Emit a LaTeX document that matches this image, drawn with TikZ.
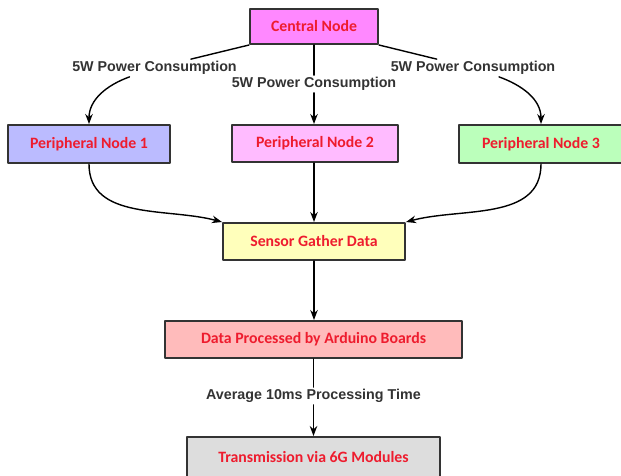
\documentclass[tikz,border=0pt]{standalone}
\usepackage{fontspec}
\setmainfont{Carlito}
\newfontfamily\edgefont{Liberation Sans}
\usetikzlibrary{arrows.meta}
\definecolor{boxline}{HTML}{333333}
\definecolor{boxtext}{HTML}{EE1C2E}
\definecolor{centralfill}{HTML}{FF88FF}
\definecolor{pnonefill}{HTML}{BBBBFF}
\definecolor{pntwofill}{HTML}{FFBBFF}
\definecolor{pnthreefill}{HTML}{BBFFBB}
\definecolor{sensorfill}{HTML}{FFFFBB}
\definecolor{procfill}{HTML}{FFBBBB}
\definecolor{transfill}{HTML}{DDDDDD}
\begin{document}
\begin{tikzpicture}[x=1pt, y=-1pt, line cap=round, line join=round, >={Stealth[length=10pt,width=7.5pt]}]
	\tikzset{box/.style={draw=boxline, line width=2pt, text=boxtext, font=\fontsize{15.8}{18}\selectfont\bfseries, minimum height=36pt, inner sep=0pt},
		edgelabel/.style={fill=white, text=boxline, font=\edgefont\fontsize{14.3}{16}\selectfont\bfseries, inner sep=2pt},
		conn/.style={line width=1.4pt, black}}
	\useasboundingbox (0,0) rectangle (621,475);
	\node[box, fill=centralfill, minimum width=128pt, minimum height=35pt] (central) at (314,26.5) {Central Node};
	\node[box, fill=pnonefill, minimum width=162pt, minimum height=38pt] (pn1) at (89,144) {Peripheral Node 1};
	\node[box, fill=pntwofill, minimum width=166pt, minimum height=37pt] (pn2) at (315,143.5) {Peripheral Node 2};
	\node[box, fill=pnthreefill, minimum width=164pt, minimum height=38pt] (pn3) at (541,144) {Peripheral Node 3};
	\node[box, fill=sensorfill, minimum width=182pt, minimum height=37pt] (sensor) at (314,241.5) {Sensor Gather Data};
	\node[box, fill=procfill, minimum width=297pt, minimum height=37pt] (proc) at (313.5,339.5) {Data Processed by Arduino Boards};
	\node[box, fill=transfill, minimum width=253pt, minimum height=40pt] (trans) at (313.5,457) {Transmission via 6G Modules};
	% labels on the links
	\node[edgelabel] (lbl1) at (154.5,68) {5W Power Consumption};
	\node[edgelabel] (lbl2) at (314,84) {5W Power Consumption};
	\node[edgelabel] (lbl3) at (473,68) {5W Power Consumption};
	\node[edgelabel] (lbl4) at (313.5,396) {Average 10ms Processing Time};
	\draw[conn] (central.south west) -- (lbl1);
	\draw[conn,->] ([xshift=-25pt]lbl1.south) to[out=-160, in=90] (pn1.north);
	\draw[conn] (central.south -| lbl2) -- (lbl2.north);
	\draw[conn,->] (lbl2.south) -- (pn2.north -| lbl2);
	\draw[conn] (central.south east) -- (lbl3);
	\draw[conn,->] ([xshift=26pt]lbl3.south) to[out=-20, in=90] (pn3.north);
	\draw[conn,->] (pn1.south) to[out=-90, in=165] (sensor.north west);
	\draw[conn,->] (pn2.south -| sensor) -- (sensor.north);
	\draw[conn,->] (pn3.south) to[out=-90, in=15] (sensor.north east);
	\draw[conn,->] (sensor.south) -- (proc.north -| sensor);
	\draw[conn] (proc.south -| lbl4) -- (lbl4.north);
	\draw[conn,->] (lbl4.south) -- (trans.north -| lbl4);
\end{tikzpicture}
\end{document}
